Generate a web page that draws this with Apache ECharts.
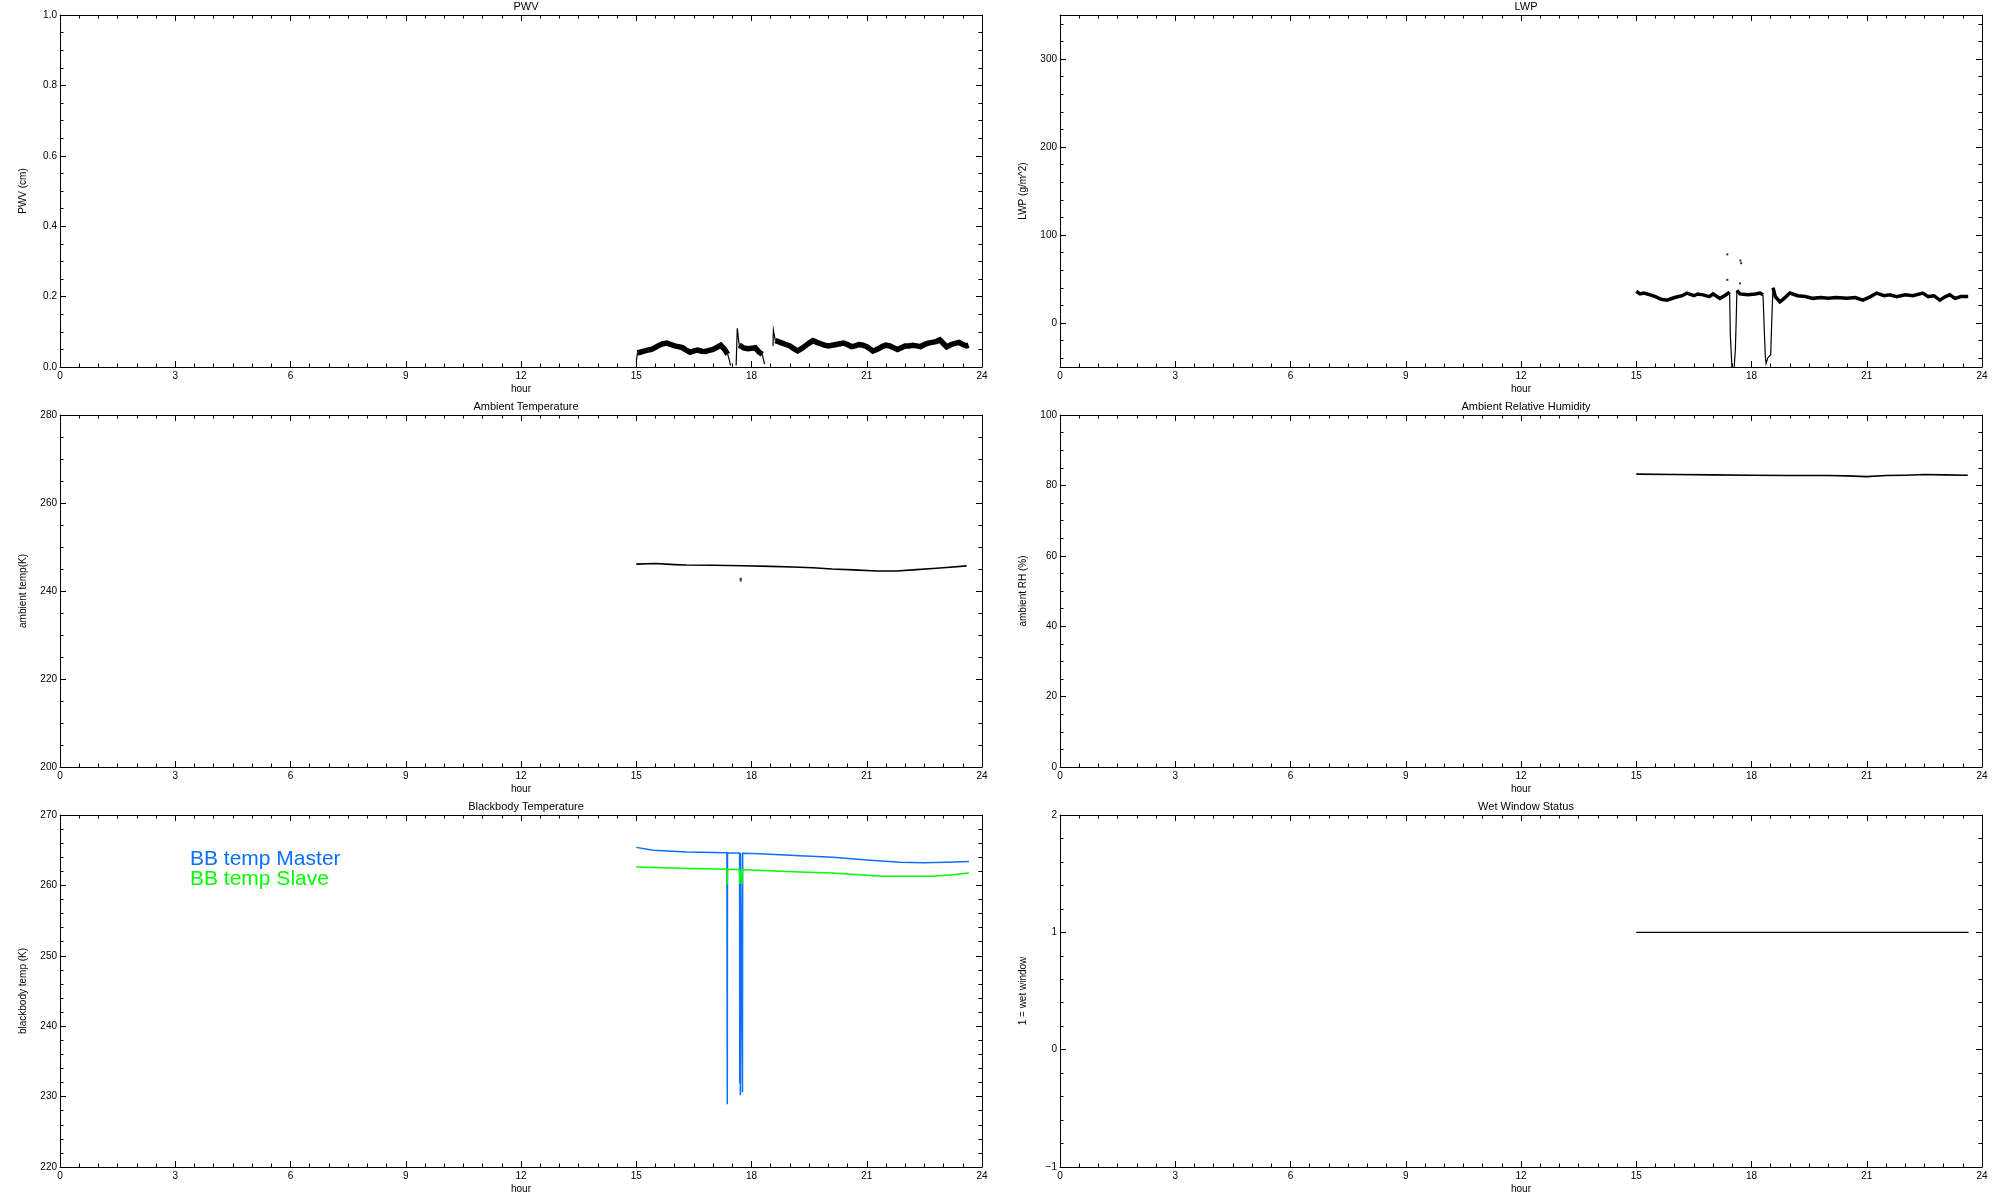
<!DOCTYPE html>
<html>
<head>
<meta charset="utf-8">
<script src="https://cdn.jsdelivr.net/npm/echarts@6/dist/echarts.min.js"></script>
<style>html,body{margin:0;padding:0;background:#fff}#c{width:2000px;height:1200px}</style>
</head>
<body>
<div id="c"></div>
<script>
// ---------- DATA (hour, value); null = gap ----------
const xTicks = [0, 3, 6, 9, 12, 15, 18, 21, 24];

const pwvBand = [
  [15.03,0.04],[15.1,0.042],[15.2,0.045],[15.3,0.048],[15.4,0.05],[15.5,0.056],[15.6,0.062],[15.7,0.066],[15.8,0.068],[15.9,0.064],
  [16.0,0.06],[16.1,0.058],[16.2,0.055],[16.3,0.048],[16.4,0.042],[16.5,0.046],[16.6,0.048],[16.7,0.045],[16.8,0.044],[16.9,0.047],
  [17.0,0.05],[17.1,0.056],[17.2,0.062],[17.3,0.05],[17.38,0.036],
  null,
  [17.68,0.062],[17.8,0.054],[17.9,0.052],[18.0,0.053],[18.1,0.055],[18.2,0.042],[18.28,0.036],
  null,
  [18.62,0.075],[18.7,0.072],[18.8,0.068],[18.9,0.064],[19.0,0.06],[19.1,0.052],[19.2,0.046],[19.3,0.052],[19.4,0.06],[19.5,0.068],
  [19.6,0.075],[19.7,0.07],[19.8,0.066],[19.9,0.062],[20.0,0.06],[20.1,0.062],[20.2,0.064],[20.3,0.066],[20.4,0.068],[20.5,0.064],
  [20.6,0.058],[20.7,0.06],[20.8,0.064],[20.9,0.062],[21.0,0.058],[21.1,0.05],[21.16,0.045],[21.3,0.052],[21.4,0.058],[21.5,0.062],
  [21.6,0.06],[21.7,0.055],[21.8,0.05],[21.9,0.055],[22.0,0.06],[22.1,0.06],[22.2,0.062],[22.3,0.06],[22.4,0.058],[22.5,0.064],
  [22.6,0.068],[22.7,0.07],[22.8,0.072],[22.9,0.077],[23.0,0.066],[23.08,0.057],[23.2,0.064],[23.3,0.067],[23.4,0.07],[23.5,0.064],
  [23.6,0.06],[23.65,0.062]
];
const pwvEdges = [
  [15.0,0.014],[15.03,0.04],
  null,
  [17.38,0.036],[17.42,0.02],[17.46,0.004],
  null,
  [17.6,0.004],[17.63,0.11],[17.68,0.062],
  null,
  [18.28,0.036],[18.34,0.008],
  null,
  [18.56,0.06],[18.57,0.105],[18.62,0.075]
];

const lwpBand = [
  [15.0,36],[15.1,33],[15.2,34],[15.36,32],[15.5,30],[15.65,27],[15.8,26],[16.0,29],[16.2,31],[16.32,34],
  [16.5,31],[16.6,33],[16.74,32],[16.9,30],[17.0,33],[17.18,28],[17.3,31],[17.43,35],
  null,
  [17.62,37],[17.7,33],[17.9,32],[18.1,33],[18.22,34],[18.3,32],
  null,
  [18.56,40],[18.62,30],[18.74,24],[18.85,28],[19.0,34],[19.2,31],[19.4,30],[19.6,28],[19.8,29],[20.0,28],
  [20.2,29],[20.48,28],[20.7,29],[20.9,26],[21.1,30],[21.26,34],[21.45,31],[21.6,32],[21.78,30],[22.0,32],
  [22.2,31],[22.46,34],[22.6,30],[22.75,31],[22.9,26],[23.05,30],[23.16,32],[23.3,28],[23.45,30],[23.64,30]
];
const lwpDrops = [
  [17.43,35],[17.45,-15],[17.5,-58],[17.55,-50],[17.58,-30],[17.6,0],[17.62,37],
  null,
  [18.3,32],[18.33,-5],[18.36,-38],[18.38,-46],[18.42,-40],[18.5,-36],[18.53,6],[18.56,40]
];
const lwpOutliers = [[17.37,78],[17.37,49],[17.71,71],[17.73,68],[17.70,45]];

const tempLine = [
  [15.0,246.1],[15.5,246.25],[16.0,246.0],[16.3,245.9],[17.0,245.85],[17.78,245.75],[18.5,245.6],[19.08,245.45],
  [19.6,245.3],[20.1,245.0],[20.65,244.8],[21.26,244.55],[21.78,244.55],[22.3,244.85],[22.72,245.1],[23.08,245.35],[23.6,245.7]
];
const tempOutliers = [[17.72,242.4],[17.72,242.8]];

const rhLine = [
  [15.0,83.2],[16.0,83.1],[17.0,83.0],[18.0,82.9],[19.0,82.8],[20.0,82.8],[20.5,82.7],[21.0,82.5],
  [21.5,82.8],[22.0,82.9],[22.5,83.1],[23.0,83.0],[23.63,82.9]
];

const bbMaster = [
  [15.0,265.4],[15.44,265.0],[16.32,264.75],[17.36,264.65],[17.37,228.9],[17.375,264.65],
  [17.69,264.6],[17.695,231.9],[17.7,264.6],[17.71,230.2],[17.715,264.6],[17.76,264.55],[17.765,230.6],[17.77,264.55],
  [18.22,264.5],[19.26,264.2],[20.12,264.0],[21.0,263.6],[21.86,263.3],[22.47,263.2],[23.08,263.3],[23.66,263.4]
];
const bbSlave = [
  [15.0,262.6],[16.4,262.4],[17.36,262.3],[17.37,260.1],[17.375,262.3],[17.69,262.25],[17.695,260.2],[17.7,262.25],
  [17.75,262.25],[17.755,260.2],[17.76,262.25],[17.96,262.2],[19.26,261.9],[20.1,261.75],[20.8,261.5],[21.4,261.3],
  [22.7,261.3],[23.24,261.5],[23.66,261.75]
];

const wetLine = [[15.0,1],[23.65,1]];

// ---------- LAYOUT ----------
const FONT = 'Liberation Sans';
const panels = [
  {title:'PWV', yName:'PWV (cm)', min:0, max:1, interval:0.2, minor:4, fmt:v=>v.toFixed(1), left:60, top:15},
  {title:'LWP', yName:'LWP (g/m^2)', min:-50, max:350, split:4, minor:5, fmt:v=>(v%100===0?String(v):''), left:1060, top:15},
  {title:'Ambient Temperature', yName:'ambient temp(K)', min:200, max:280, interval:20, minor:4, fmt:v=>String(v), left:60, top:415},
  {title:'Ambient Relative Humidity', yName:'ambient RH (%)', min:0, max:100, interval:20, minor:4, fmt:v=>String(v), left:1060, top:415},
  {title:'Blackbody Temperature', yName:'blackbody temp (K)', min:220, max:270, interval:10, minor:5, fmt:v=>String(v), left:60, top:815},
  {title:'Wet Window Status', yName:'1 = wet window', min:-1, max:2, interval:1, minor:5, fmt:v=>String(v).replace('-','\u2212'), left:1060, top:815}
];
const W = 922, H = 352;

const grids = [], xAxes = [], yAxes = [], titles = [];
const lineAx = {onZero:false, lineStyle:{color:'#000', width:1}};
panels.forEach((p, i) => {
  grids.push({left:p.left, top:p.top, width:W, height:H, containLabel:false});
  titles.push({text:p.title, left:p.left + W/2, top:p.top - 19, textAlign:'center',
    textStyle:{fontFamily:FONT, fontSize:11, fontWeight:'normal', color:'#000'}});
  const xBase = {type:'value', gridIndex:i, min:0, max:24, interval:3, splitLine:{show:false},
    axisLine:lineAx, axisTick:{inside:true, length:6, lineStyle:{color:'#000'}},
    minorTick:{show:true, splitNumber:6, length:3.5, lineStyle:{color:'#000'}}};
  xAxes.push(Object.assign({}, xBase, {position:'bottom', name:'hour', nameLocation:'middle', nameGap:17,
    nameTextStyle:{fontFamily:FONT, fontSize:10, color:'#000'},
    axisLabel:{show:true, margin:4, fontFamily:FONT, fontSize:10, color:'#000'}}));
  xAxes.push(Object.assign({}, xBase, {position:'top', axisLabel:{show:false}}));
  const yBase = {type:'value', gridIndex:i, min:p.min, max:p.max, splitLine:{show:false},
    axisLine:lineAx, axisTick:{inside:true, length:6, lineStyle:{color:'#000'}},
    minorTick:{show:true, splitNumber:p.minor, length:3.5, lineStyle:{color:'#000'}}};
  if (p.interval !== undefined) yBase.interval = p.interval; else yBase.splitNumber = p.split;
  yAxes.push(Object.assign({}, yBase, {position:'left', name:p.yName, nameLocation:'middle', nameGap:32,
    nameTextStyle:{fontFamily:FONT, fontSize:10, color:'#000'},
    axisLabel:{show:true, margin:3, fontFamily:FONT, fontSize:10, color:'#000', formatter:p.fmt}}));
  yAxes.push(Object.assign({}, yBase, {position:'right', axisLabel:{show:false}}));
});

function prep(arr){ return arr.map(d => d === null ? ['-','-'] : d); }
function line(i, data, color, width, z){
  return {type:'line', xAxisIndex:2*i, yAxisIndex:2*i, data:prep(data), showSymbol:false, symbol:'none',
    connectNulls:false, clip:true, animation:false, z:z||2,
    lineStyle:{color:color, width:width, join:'miter'}};
}
function dots(i, data, size){
  return {type:'scatter', xAxisIndex:2*i, yAxisIndex:2*i, data:data, symbol:'rect', symbolSize:size||2,
    itemStyle:{color:'#000'}, animation:false};
}

const BLUE = '#0a6eff', GREEN = '#00ff00';
const series = [
  line(0, pwvBand, '#000', 5.5),
  line(0, pwvEdges, '#000', 1.2),
  line(1, lwpBand, '#000', 3.5),
  line(1, lwpDrops, '#000', 1.2),
  dots(1, lwpOutliers, 2),
  line(2, tempLine, '#000', 1.6),
  dots(2, tempOutliers, 2),
  line(3, rhLine, '#000', 1.6),
  line(4, bbMaster, BLUE, 1.5, 2),
  line(4, bbSlave, GREEN, 1.5, 3),
  line(5, wetLine, '#000', 1.4)
];

const chart = echarts.init(document.getElementById('c'), null, {renderer:'canvas'});
chart.setOption({
  backgroundColor:'#fff',
  animation:false,
  title:titles,
  grid:grids,
  xAxis:xAxes,
  yAxis:yAxes,
  series:series,
  graphic:[
    {type:'text', left:190, top:849, style:{text:'BB temp Master', fill:BLUE, font:'21px "Liberation Sans"'}},
    {type:'text', left:190, top:869, style:{text:'BB temp Slave', fill:GREEN, font:'21px "Liberation Sans"'}}
  ]
});
</script>
</body>
</html>
